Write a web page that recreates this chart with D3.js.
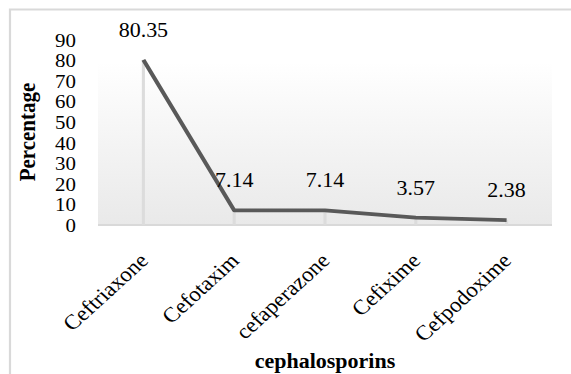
<!DOCTYPE html>
<html>
<head>
<meta charset="utf-8">
<script src="https://cdn.jsdelivr.net/npm/d3@7"></script>
<style>
  html, body { margin: 0; padding: 0; background: #fff; }
  svg { display: block; }
  svg text { font-family: "Liberation Serif", "Times New Roman", serif !important; fill: #000; }
</style>
</head>
<body>
<svg id="chart" width="571" height="374"></svg>
<script>
// Share of cephalosporin prescriptions (%)
const categories = ["Ceftriaxone", "Cefotaxim", "cefaperazone", "Cefixime", "Cefpodoxime"];
const values = [80.35, 7.14, 7.14, 3.57, 2.38];
const yTicks = [0, 10, 20, 30, 40, 50, 60, 70, 80, 90];

const W = 571, H = 374;
// The drawing is laid out in a slightly narrower coordinate space and widened to fit the page
const sx = 1.1;
const VW = W / sx;
const X = px => px / sx;

const svg = d3.select("#chart")
  .attr("viewBox", `0 0 ${VW} ${H}`)
  .attr("preserveAspectRatio", "none");

const plot = { left: X(98), right: X(552), top: 40, bottom: 225 };
const serif = "Liberation Serif, Times New Roman, serif";

// Outer chart frame (runs off the right and bottom edges)
svg.append("rect")
  .attr("x", X(10)).attr("y", 9.5)
  .attr("width", VW + 20).attr("height", H + 20)
  .attr("fill", "#fff").attr("stroke", "#d9d9d9").attr("stroke-width", 2);

const x = d3.scaleBand().domain(categories).range([plot.left, plot.right]).padding(0);
const y = d3.scaleLinear().domain([0, 90]).range([plot.bottom, plot.top]);

// Plot area gradient
const defs = svg.append("defs");
const grad = defs.append("linearGradient").attr("id", "plotBg")
  .attr("x1", 0).attr("y1", 0).attr("x2", 0).attr("y2", 1);
grad.append("stop").attr("offset", "0%").attr("stop-color", "#ffffff");
grad.append("stop").attr("offset", "12%").attr("stop-color", "#ffffff");
grad.append("stop").attr("offset", "100%").attr("stop-color", "#e9e9e9");

svg.append("rect")
  .attr("x", plot.left).attr("y", plot.top)
  .attr("width", plot.right - plot.left).attr("height", plot.bottom - plot.top)
  .attr("fill", "url(#plotBg)");

// Y axis: labels only
const yAxis = svg.append("g")
  .attr("transform", `translate(${X(76)},0)`)
  .call(d3.axisLeft(y).tickValues(yTicks).tickSize(0).tickPadding(0));
yAxis.select(".domain").remove();
yAxis.selectAll("text")
  .attr("font-family", serif)
  .attr("font-size", 19).attr("fill", "#000").attr("dy", "0.33em");

// X axis line
svg.append("line")
  .attr("x1", plot.left).attr("x2", plot.right)
  .attr("y1", plot.bottom).attr("y2", plot.bottom)
  .attr("stroke", "#d9d9d9").attr("stroke-width", 2);

// Category labels, rotated
const xAxis = svg.append("g")
  .attr("transform", `translate(0,${plot.bottom})`)
  .call(d3.axisBottom(x).tickSize(0).tickPadding(0));
xAxis.select(".domain").remove();
xAxis.selectAll("text")
  .attr("font-family", serif)
  .attr("font-size", 21).attr("fill", "#000")
  .attr("text-anchor", "end").attr("dy", 0).attr("y", 0)
  .attr("transform", `translate(${X(6)},37) rotate(-45)`);

const cx = d => x(d) + x.bandwidth() / 2;

// Drop lines from each point to the axis
svg.append("g").selectAll("line")
  .data(categories)
  .join("line")
  .attr("x1", d => cx(d)).attr("x2", d => cx(d))
  .attr("y1", (d, i) => y(values[i])).attr("y2", plot.bottom)
  .attr("stroke", "#dcdcdc").attr("stroke-width", 2.8);

// Series line
const line = d3.line().x(d => cx(d.c)).y(d => y(d.v));
svg.append("path")
  .datum(categories.map((c, i) => ({ c, v: values[i] })))
  .attr("d", line)
  .attr("fill", "none").attr("stroke", "#595959")
  .attr("stroke-width", 3.8).attr("stroke-linejoin", "round");

// Value labels
svg.append("g").selectAll("text")
  .data(categories)
  .join("text")
  .attr("x", d => cx(d)).attr("y", (d, i) => y(values[i]) - 23)
  .attr("text-anchor", "middle").attr("font-size", 20)
  .attr("font-family", serif)
  .text((d, i) => values[i].toFixed(2));

// Axis titles
svg.append("text")
  .attr("transform", `translate(${X(35)},132) rotate(-90)`)
  .attr("text-anchor", "middle").attr("font-size", 21).attr("font-weight", "bold")
  .attr("font-family", serif)
  .text("Percentage");

svg.append("text")
  .attr("x", X(325)).attr("y", 368)
  .attr("text-anchor", "middle").attr("font-size", 20).attr("font-weight", "bold")
  .attr("font-family", serif)
  .text("cephalosporins");
</script>
</body>
</html>
